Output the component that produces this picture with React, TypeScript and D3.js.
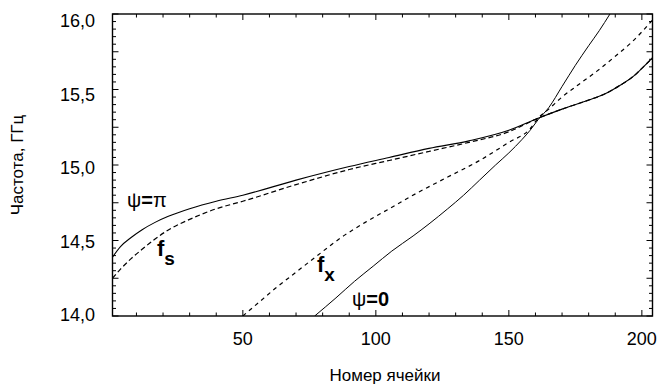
import React, { useEffect, useRef } from 'react';
import * as d3 from 'd3';

// curve psi = pi (solid, upper)
const piCells = [1, 4, 8, 12, 17, 22, 30, 40, 50, 70, 90, 105, 120, 135, 150, 161, 170, 180, 186, 192, 197, 200, 204];
const piFreq = [14.39, 14.46, 14.52, 14.57, 14.62, 14.66, 14.71, 14.76, 14.80, 14.90, 14.99, 15.05, 15.11, 15.16, 15.23, 15.31, 15.37, 15.43, 15.47, 15.53, 15.59, 15.64, 15.71];

// curve f_s (dashed, just under psi = pi)
const fsCells = [1, 4, 8, 12, 17, 22, 30, 40, 50, 70, 90, 105, 120, 135, 150, 161, 170, 180, 186, 192, 197, 200, 204];
const fsFreq = [14.25, 14.31, 14.38, 14.44, 14.51, 14.57, 14.64, 14.71, 14.76, 14.87, 14.97, 15.03, 15.09, 15.15, 15.22, 15.31, 15.37, 15.43, 15.47, 15.53, 15.59, 15.64, 15.71];

// curve f_x (short dashes)
const fxCells = [50, 56, 62, 70, 78, 87, 96, 105, 115, 127, 139, 150, 158, 161, 165, 170, 176, 183, 190, 196, 204];
const fxFreq = [14.0, 14.09, 14.18, 14.29, 14.4, 14.52, 14.62, 14.71, 14.81, 14.92, 15.03, 15.15, 15.24, 15.31, 15.37, 15.45, 15.53, 15.62, 15.72, 15.81, 15.96];

// curve psi = 0 (solid, steep)
const zeroCells = [77, 85, 92, 99, 106, 114, 120, 127, 133, 139, 145, 150, 155, 158, 161, 165, 170, 175, 180, 184, 188];
const zeroFreq = [14.0, 14.12, 14.23, 14.33, 14.43, 14.53, 14.61, 14.71, 14.8, 14.9, 15.0, 15.08, 15.17, 15.23, 15.3, 15.38, 15.52, 15.66, 15.79, 15.89, 16.0];

const xTickValues = [50, 100, 150, 200];
const yTickValues = [14.0, 14.5, 15.0, 15.5, 16.0];

const FONT = '"Liberation Sans", Arial, sans-serif';

const App = () => {
    const svgRef = useRef(null);

    useEffect(() => {
        const width = 657;
        const height = 387;
        const left = 112.5, right = 652.5, top = 14, bottom = 316;

        const x = d3.scaleLinear().domain([1, 204]).range([left, right]);
        const y = d3.scaleLinear().domain([14, 16]).range([bottom, top]);
        // tick labels sit a bit off the ticks in the original
        const yLabel = d3.scaleLinear().domain([14, 16]).range([bottom - 1, top + 7]);

        const svg = d3.select(svgRef.current);
        svg.selectAll("*").remove();
        svg.attr("width", width).attr("height", height);

        const clip = svg.append("defs").append("clipPath").attr("id", "plot-clip");
        clip.append("rect").attr("x", left).attr("y", top).attr("width", right - left).attr("height", bottom - top);

        // minor / major ticks, all pointing inward
        const ticks = svg.append("g").attr("stroke", "#000").attr("stroke-width", 1);
        d3.range(10, 205, 10).forEach(v => {
            const len = v % 50 === 0 ? 6 : 3.5;
            ticks.append("line").attr("x1", x(v)).attr("x2", x(v)).attr("y1", bottom).attr("y2", bottom - len);
            ticks.append("line").attr("x1", x(v)).attr("x2", x(v)).attr("y1", top).attr("y2", top + len);
        });
        d3.range(0, 41).map(i => 14 + i * 0.05).forEach(v => {
            const len = Math.round(v * 100) % 25 === 0 ? 6 : 3.5;
            ticks.append("line").attr("x1", left).attr("x2", left + len).attr("y1", y(v)).attr("y2", y(v));
            ticks.append("line").attr("x1", right).attr("x2", right - len).attr("y1", y(v)).attr("y2", y(v));
        });

        svg.append("rect")
            .attr("x", left).attr("y", top)
            .attr("width", right - left).attr("height", bottom - top)
            .attr("fill", "none").attr("stroke", "#000").attr("stroke-width", 1.4);

        // tick labels
        svg.append("g")
            .selectAll("text")
            .data(xTickValues)
            .enter()
            .append("text")
            .attr("x", d => x(d))
            .attr("y", 345)
            .attr("text-anchor", "middle")
            .style("font-family", FONT)
            .style("font-size", "18px")
            .text(d => d);

        svg.append("g")
            .selectAll("text")
            .data(yTickValues)
            .enter()
            .append("text")
            .attr("x", 95)
            .attr("y", d => yLabel(d))
            .attr("dy", "0.36em")
            .attr("text-anchor", "end")
            .style("font-family", FONT)
            .style("font-size", "18px")
            .text(d => d.toFixed(1).replace('.', ','));

        // axis titles
        svg.append("text")
            .attr("transform", "translate(23,165) rotate(-90)")
            .attr("text-anchor", "middle")
            .style("font-family", FONT)
            .style("font-size", "17px")
            .text("Частота, ГГц");

        svg.append("text")
            .attr("x", 385)
            .attr("y", 381)
            .attr("text-anchor", "middle")
            .style("font-family", FONT)
            .style("font-size", "17px")
            .text("Номер ячейки");

        // curves
        const line = d3.line()
            .x(d => x(d[0]))
            .y(d => y(d[1]))
            .curve(d3.curveMonotoneX);

        const curves = [
            { cells: fsCells, freq: fsFreq, dash: "5,3", w: 1.2 },
            { cells: fxCells, freq: fxFreq, dash: "4,4", w: 1.2 },
            { cells: piCells, freq: piFreq, dash: null, w: 1.1 },
            { cells: zeroCells, freq: zeroFreq, dash: null, w: 1 },
        ];

        const plot = svg.append("g").attr("clip-path", "url(#plot-clip)");
        curves.forEach(c => {
            plot.append("path")
                .datum(c.cells.map((v, i) => [v, c.freq[i]]))
                .attr("d", line)
                .attr("fill", "none")
                .attr("stroke", "#000")
                .attr("stroke-width", c.w)
                .attr("stroke-dasharray", c.dash);
        });

        // annotations
        const note = (px, py, parts) => {
            const t = svg.append("text").attr("x", px).attr("y", py)
                .style("font-family", FONT).style("font-size", "20px");
            parts.forEach(p => {
                const s = t.append("tspan").text(p.text);
                if (p.bold) s.style("font-weight", "bold");
                if (p.dy) s.attr("dy", p.dy);
                if (p.size) s.style("font-size", p.size);
            });
        };

        note(127, 207, [{ text: "ψ" }, { text: "=", bold: true }, { text: "π" }]);
        note(157, 256, [{ text: "f", bold: true, size: "22px" }, { text: "s", bold: true, dy: 9, size: "19px" }]);
        note(317, 272, [{ text: "f", bold: true, size: "22px" }, { text: "x", bold: true, dy: 9, size: "19px" }]);
        note(352, 306, [{ text: "ψ" }, { text: "=0", bold: true }]);
    }, []);

    return (
        <div style={{ position: 'absolute', left: 0, top: 0, background: '#fff' }}>
            <svg ref={svgRef}></svg>
        </div>
    );
};

export default App;
